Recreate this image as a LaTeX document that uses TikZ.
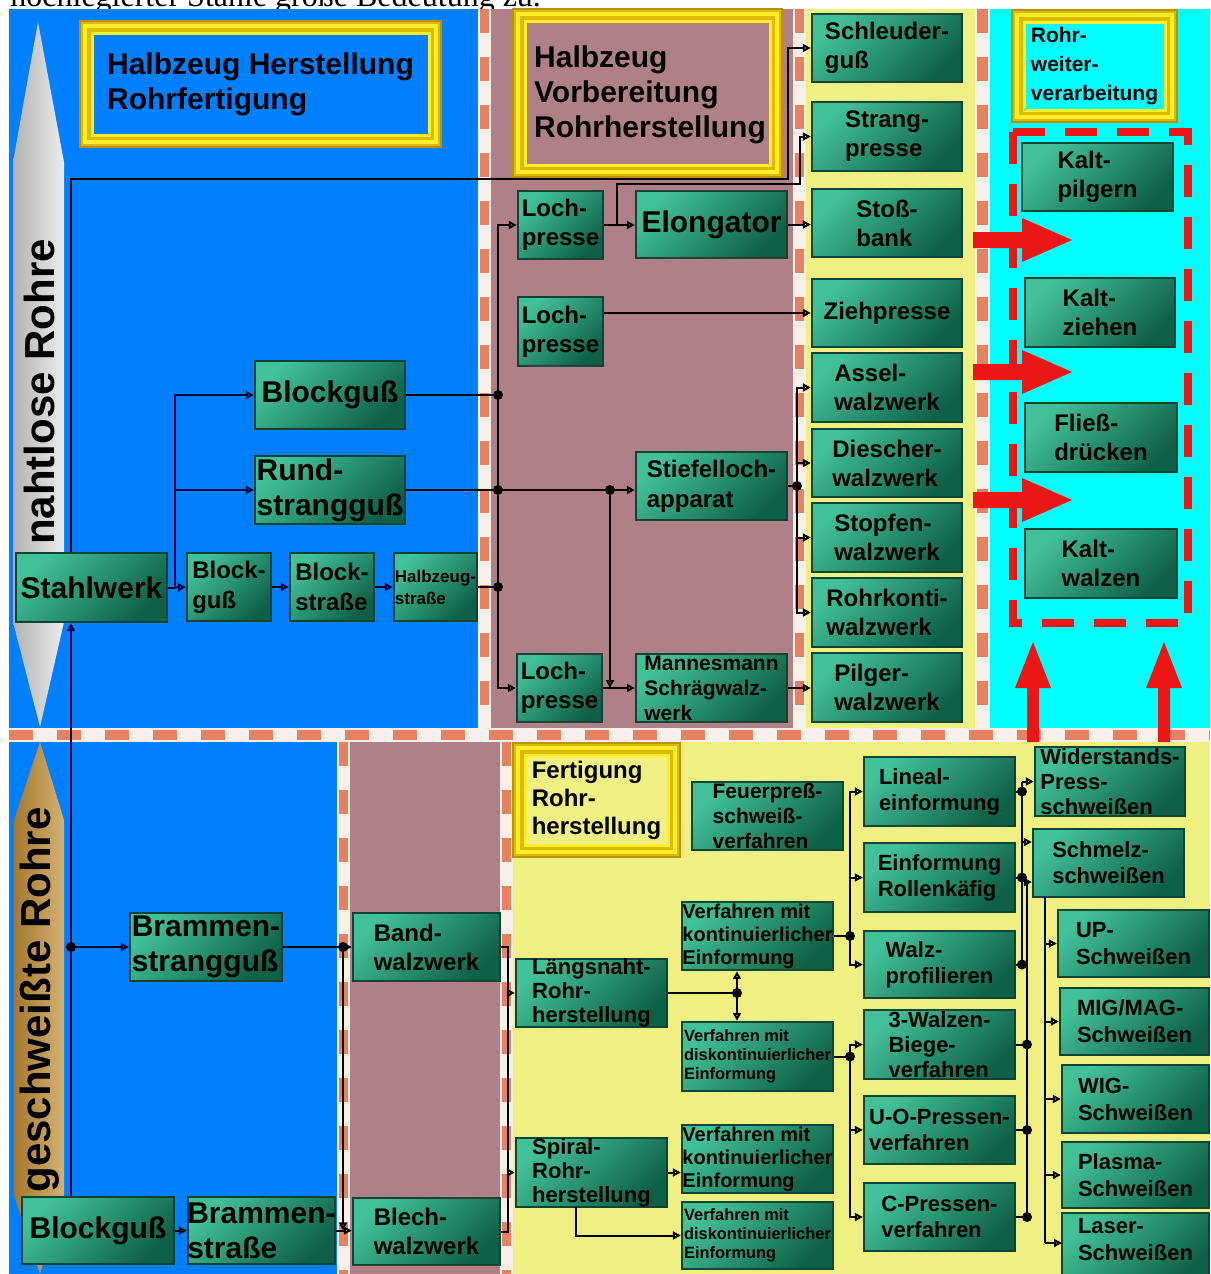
\documentclass[tikz,border=0pt]{standalone}
\usepackage{fontspec}
\setmainfont{Liberation Serif}
\setsansfont{Liberation Sans}
\usetikzlibrary{arrows.meta}

\definecolor{skyblue}{RGB}{0,128,255}
\definecolor{mauve}{RGB}{176,128,136}
\definecolor{paleyel}{RGB}{240,240,130}
\definecolor{aqua}{RGB}{0,255,255}
\definecolor{stripeor}{RGB}{232,128,98}
\definecolor{stripebg}{RGB}{246,240,232}
\definecolor{tealhi}{RGB}{66,192,154}
\definecolor{teallo}{RGB}{14,96,72}
\definecolor{tealedge}{RGB}{14,68,50}
\definecolor{goldA}{RGB}{222,186,0}
\definecolor{goldB}{RGB}{255,238,40}
\definecolor{goldC}{RGB}{186,146,0}
\definecolor{navy}{RGB}{0,0,60}
\definecolor{arrowred}{RGB}{236,22,22}

% green process box with exact pixel extent
\newcommand\gbox[5]{\node[gbox, minimum width={(#4-(#2))*0.5pt}, minimum height={(#5-(#3))*0.5pt}] (#1) at ({(#2+#4)/2},{(#3+#5)/2}) {};}
% gold title frame
\newcommand\goldframe[6]{%
  \node[draw=goldC, fill=goldA, line width=1pt, inner sep=0pt, minimum width={(#4-(#2))*0.5pt}, minimum height={(#5-(#3))*0.5pt}] (#1) at ({(#2+#4)/2},{(#3+#5)/2}) {};
  \draw[goldB, line width=2pt] ([shift={(6,6)}]#1.north west) rectangle ([shift={(-6,-6)}]#1.south east);
  \filldraw[fill=#6, draw=goldB, line width=1.5pt] ([shift={(13,13)}]#1.north west) rectangle ([shift={(-13,-13)}]#1.south east);}
% striped separators
\newcommand\vsep[4]{\fill[stripebg] (#1,#3) rectangle (#2,#4);
  \draw[stripeor, line width={(#2-(#1))*0.35pt}, dash pattern=on 12pt off 12pt] ({(#1+#2)/2},#3) -- ({(#1+#2)/2},#4);}
\newcommand\hsep[4]{\fill[stripebg] (#1,#3) rectangle (#2,#4);
  \draw[stripeor, line width={(#4-(#3))*0.35pt}, dash pattern=on 12pt off 12pt] (#1,{(#3+#4)/2}) -- (#2,{(#3+#4)/2});}
% red block arrows
\newcommand\rightred[1]{\fill[arrowred] (973,{#1-8}) -- (1022,{#1-8}) -- (1022,{#1-22}) -- (1072,#1) -- (1022,{#1+22}) -- (1022,{#1+8}) -- (973,{#1+8}) -- cycle;}
\newcommand\upred[1]{\fill[arrowred] ({#1-6},742) -- ({#1-6},688) -- ({#1-18},688) -- (#1,642) -- ({#1+18},688) -- ({#1+6},688) -- ({#1+6},742) -- cycle;}

\tikzset{
  gbox/.style={rectangle, inner sep=0pt, draw=tealedge, line width=1.2pt,
    top color=tealhi, bottom color=teallo, shading angle=45},
  lbl/.style={align=left, inner sep=0pt, text=black},
  t30/.style={lbl, font=\sffamily\bfseries\fontsize{15}{17.5}\selectfont},
  t24/.style={lbl, font=\sffamily\bfseries\fontsize{12}{14.5}\selectfont},
  t24w/.style={lbl, font=\sffamily\bfseries\fontsize{12}{15}\selectfont},
  t22/.style={lbl, font=\sffamily\bfseries\fontsize{11}{12}\selectfont},
  t22m/.style={lbl, font=\sffamily\bfseries\fontsize{11}{12.5}\selectfont},
  t22w/.style={lbl, font=\sffamily\bfseries\fontsize{11}{13}\selectfont},
  t22x/.style={lbl, font=\sffamily\bfseries\fontsize{11}{13.5}\selectfont},
  t21/.style={lbl, font=\sffamily\bfseries\fontsize{10.5}{12.5}\selectfont},
  t21w/.style={lbl, font=\sffamily\bfseries\fontsize{10.5}{14.5}\selectfont},
  t20/.style={lbl, font=\sffamily\bfseries\fontsize{10}{11.5}\selectfont},
  t16/.style={lbl, font=\sffamily\bfseries\fontsize{8.2}{9.5}\selectfont},
  t17/.style={lbl, font=\sffamily\bfseries\fontsize{8.5}{11}\selectfont},
  ln/.style={draw=black, line width=1pt},
  lnb/.style={draw=navy, line width=1pt},
  arr/.style={-{Triangle[open,length=4pt,width=4pt]}},
  dot/.style={circle, fill=black, inner sep=0pt, minimum size=5pt},
}

\begin{document}
\begin{tikzpicture}[x=0.5pt, y=-0.5pt]
\useasboundingbox (0,0) rectangle (1210,1274);
\clip (0,0) rectangle (1210,1274);
\fill[white] (0,0) rectangle (1210,1274);

% running text of the page above the chart
\node[anchor=base west, inner sep=0pt, font=\rmfamily\fontsize{16}{16}\selectfont] (pagetext) at (10,6) {hochlegierter Stähle große Bedeutung zu.};

% ---------- background areas ----------
\fill[skyblue] (9,9) rectangle (478,728);
\fill[mauve] (491,9) rectangle (793,728);
\fill[paleyel] (806,9) rectangle (975,728);
\fill[aqua] (990,9) rectangle (1210,728);
\fill[skyblue] (9,742) rectangle (337,1274);
\fill[mauve] (350,742) rectangle (500,1274);
\fill[paleyel] (513,742) rectangle (1210,1274);

\vsep{478}{491}{9}{728}
\vsep{793}{806}{9}{728}
\vsep{975}{990}{9}{728}
\hsep{9}{1210}{728}{742}
\vsep{337}{350}{742}{1274}
\vsep{500}{513}{742}{1274}

% ---------- side arrows ----------
\shade[left color=gray!60, middle color=white, right color=gray!15]
  (38,22) -- (64,162) -- (64,622) -- (40,727) -- (13,622) -- (13,162) -- cycle;
\node[rotate=90, inner sep=0pt, font=\sffamily\bfseries\fontsize{21}{21}\selectfont] (seamless) at (39,392) {nahtlose Rohre};
\shade[left color={rgb,255:red,165;green,120;blue,45}, middle color={rgb,255:red,250;green,238;blue,198}, right color={rgb,255:red,212;green,178;blue,115}]
  (40,742) -- (64,820) -- (64,1195) -- (40,1274) -- (14,1195) -- (14,820) -- cycle;
\node[rotate=90, inner sep=0pt, font=\sffamily\bfseries\fontsize{21}{21}\selectfont] (welded) at (40,1000) {geschweißte Rohre};

% ---------- title frames ----------
\goldframe{fA}{80}{21}{441}{147}{skyblue}
\node[t30] at (fA) {Halbzeug Herstellung\\Rohrfertigung};
\goldframe{fB}{513}{9}{782}{177}{mauve}
\node[t30] at (650,95) {Halbzeug\\Vorbereitung\\Rohrherstellung};
\goldframe{fC}{1012}{10}{1177}{122}{aqua}
\node[t21w] at (fC) {Rohr-\\weiter-\\verarbeitung};
\goldframe{fD}{513}{743}{680}{857}{paleyel}
\node[t24, font=\sffamily\bfseries\fontsize{12}{14}\selectfont] at (fD) {Fertigung\\Rohr-\\herstellung};

% ---------- red markers in the finishing area ----------
\draw[arrowred, line width=4pt, dash pattern=on 16pt off 10pt] (1013,132) rectangle (1188,623);
\rightred{240}
\rightred{372}
\rightred{500}
\upred{1033}
\upred{1164}

% ---------- boxes ----------
\gbox{stahl}{16}{553}{167}{622}
\gbox{bgA}{255}{361}{405}{429}
\gbox{rund}{255}{456}{405}{524}
\gbox{bgB}{187}{553}{271}{621}
\gbox{bstr}{290}{553}{374}{621}
\gbox{hzs}{394}{553}{477}{621}

\gbox{lpA}{518}{191}{603}{259}
\gbox{elong}{636}{191}{787}{258}
\gbox{lpB}{518}{297}{603}{366}
\gbox{lpC}{517}{654}{602}{722}
\gbox{stief}{636}{452}{787}{520}
\gbox{mann}{636}{654}{787}{722}

\gbox{schl}{812}{14}{962}{82}
\gbox{strang}{812}{102}{962}{171}
\gbox{stoss}{812}{189}{962}{257}
\gbox{zieh}{812}{279}{962}{347}
\gbox{assel}{812}{353}{962}{422}
\gbox{diesch}{812}{429}{962}{497}
\gbox{stopf}{812}{503}{962}{572}
\gbox{konti}{812}{578}{962}{647}
\gbox{pilg}{812}{653}{962}{722}

\gbox{kp}{1022}{143}{1173}{211}
\gbox{kz}{1025}{278}{1175}{347}
\gbox{fd}{1025}{403}{1177}{472}
\gbox{kw}{1025}{529}{1177}{598}

\gbox{bsg}{130}{913}{282}{981}
\gbox{bgL}{22}{1197}{174}{1264}
\gbox{bst}{188}{1197}{335}{1264}
\gbox{band}{353}{913}{500}{981}
\gbox{blech}{353}{1198}{500}{1265}

\gbox{feuer}{692}{782}{843}{850}
\gbox{vkA}{682}{902}{833}{970}
\gbox{lnr}{516}{959}{667}{1027}
\gbox{vdA}{682}{1022}{833}{1091}
\gbox{spr}{516}{1138}{667}{1207}
\gbox{vkB}{682}{1125}{833}{1193}
\gbox{vdB}{682}{1202}{833}{1269}

\gbox{lin}{864}{757}{1015}{826}
\gbox{eir}{864}{843}{1015}{912}
\gbox{walz}{864}{931}{1015}{998}
\gbox{wdrei}{864}{1010}{1015}{1079}
\gbox{uo}{864}{1096}{1015}{1164}
\gbox{cp}{864}{1183}{1015}{1251}

\gbox{wid}{1035}{747}{1185}{816}
\gbox{schm}{1033}{829}{1184}{897}
\gbox{up}{1058}{910}{1209}{977}
\gbox{mig}{1060}{988}{1209}{1055}
\gbox{wig}{1062}{1065}{1209}{1133}
\gbox{plas}{1062}{1142}{1209}{1208}
\gbox{las}{1062}{1213}{1209}{1281}

% ---------- box texts ----------
\node[t30] at (stahl) {Stahlwerk};
\node[t30] at (bgA) {Blockguß};
\node[t30] at (rund) {Rund-\\strangguß};
\node[t24w] at (bgB) {Block-\\guß};
\node[t24w] at (bstr) {Block-\\straße};
\node[t17] at (hzs) {Halbzeug-\\straße};
\node[t24] at (lpA) {Loch-\\presse};
\node[t30] at (elong) {Elongator};
\node[t24] at (lpB) {Loch-\\presse};
\node[t24] at (lpC) {Loch-\\presse};
\node[t24w] at (stief) {Stiefelloch-\\apparat};
\node[t21] at (mann) {Mannesmann\\Schrägwalz-\\werk};

\node[t24] at (schl) {Schleuder-\\guß};
\node[t24] at (strang) {Strang-\\presse};
\node[t24] at (stoss) {Stoß-\\bank};
\node[t24] at (zieh) {Ziehpresse};
\node[t24] at (assel) {Assel-\\walzwerk};
\node[t24] at (diesch) {Diescher-\\walzwerk};
\node[t24] at (stopf) {Stopfen-\\walzwerk};
\node[t24] at (konti) {Rohrkonti-\\walzwerk};
\node[t24] at (pilg) {Pilger-\\walzwerk};

\node[t24] at (kp) {Kalt-\\pilgern};
\node[t24] at (kz) {Kalt-\\ziehen};
\node[t24] at (fd) {Fließ-\\drücken};
\node[t24] at (kw) {Kalt-\\walzen};

\node[t30] at (bsg) {Brammen-\\strangguß};
\node[t30] at (bgL) {Blockguß};
\node[t30] at (bst) {Brammen-\\straße};
\node[t24] at (band) {Band-\\walzwerk};
\node[t24] at (blech) {Blech-\\walzwerk};

\node[t21] at (feuer) {Feuerpreß-\\schweiß-\\verfahren};
\node[t20] at (vkA) {Verfahren mit\\kontinuierlicher\\Einformung};
\node[t22] at (lnr) {Längsnaht-\\Rohr-\\herstellung};
\node[t16] at (vdA) {Verfahren mit\\diskontinuierlicher\\Einformung};
\node[t22] at (spr) {Spiral-\\Rohr-\\herstellung};
\node[t20] at (vkB) {Verfahren mit\\kontinuierlicher\\Einformung};
\node[t16] at (vdB) {Verfahren mit\\diskontinuierlicher\\Einformung};

\node[t22w] at (lin) {Lineal-\\einformung};
\node[t22w] at (eir) {Einformung\\Rollenkäfig};
\node[t22w] at (walz) {Walz-\\profilieren};
\node[t22m] at (wdrei) {3-Walzen-\\Biege-\\verfahren};
\node[t22w] at (uo) {U-O-Pressen-\\verfahren};
\node[t22w] at (cp) {C-Pressen-\\verfahren};

\node[t22m] at (wid) {Widerstands-\\Press-\\schweißen};
\node[t22w] at (schm) {Schmelz-\\schweißen};
\node[t22x] at (up) {UP-\\Schweißen};
\node[t22x] at (mig) {MIG/MAG-\\Schweißen};
\node[t22x] at (wig) {WIG-\\Schweißen};
\node[t22x] at (plas) {Plasma-\\Schweißen};
\node[t22x] at (las.north) [anchor=north, yshift=-3pt] {Laser-\\Schweißen};

% ---------- connectors: steel works and semi-finished products ----------
\coordinate (topL) at (71,179);
\coordinate (kA) at (788,179);
\coordinate (dA) at (71,947);
\draw[lnb,arr] (bgL.north -| topL) -- (stahl.south -| topL);
\draw[ln,arr] (stahl.north -| topL) -- (topL) -- (kA) |- (schl.west);
\draw[lnb,arr] (dA) -- (dA -| bsg.west);

\coordinate (jB) at (175,587.5);
\draw[lnb] (stahl.east) -- (jB);
\draw[lnb,arr] (jB) -- (bgB.west);
\draw[lnb,arr] (jB) |- (bgA.west);
\draw[lnb,arr] (jB) |- (rund.west);
\draw[lnb,arr] (bgB.east) -- (bstr.west);
\draw[lnb,arr] (bstr.east) -- (hzs.west);

% collecting bus in the preparation area
\coordinate (dh) at (498,587);
\coordinate (db) at (498,395);
\coordinate (dr) at (498,490);
\coordinate (dS) at (610,490);
\draw[ln] (hzs.east) -- (dh);
\draw[ln] (bgA.east) -- (db);
\draw[ln] (rund.east) -- (dr) -- (dS);
\draw[ln] (db) -- (dh);
\draw[ln,arr] (db) |- (lpA.west);
\draw[ln,arr] (dh) |- (lpC.west);
\draw[ln,arr] (dS) -- (dS -| stief.west);
\draw[ln,arr] (dS) -- (dS |- lpC.east);
\draw[ln,arr] (lpC.east) -- (mann.west);

\coordinate (jE) at (617,225);
\coordinate (kS) at (800,184);
\draw[ln,arr] (lpA.east) -- (lpA.east -| elong.west);
\draw[ln,arr] (jE) |- (kS) |- (strang.west);
\draw[ln,arr] (elong.east) -- (elong.east -| stoss.west);
\draw[ln,arr] (lpB.east |- zieh.west) -- (zieh.west);

\coordinate (dT) at (797,486);
\draw[ln] (stief.east) -- (dT);
\draw[ln,arr] (dT) |- (assel.west);
\draw[ln,arr] (dT) |- (konti.west);
\draw[ln,arr] (dT |- diesch.west) -- (diesch.west);
\draw[ln,arr] (dT |- stopf.west) -- (stopf.west);
\draw[ln,arr] (mann.east) -- (mann.east -| pilg.west);

% ---------- connectors: welded tubes ----------
\coordinate (dB) at (343,947);
\draw[ln] (bsg.east) -- (dB);
\draw[ln,arr] (dB) -- (dB -| band.west);
\draw[ln,arr] (dB) -- (dB |- bst.east);
\draw[ln,arr] (bgL.east) -- (bgL.east -| bst.west);
\draw[ln,arr] (bst.east) -- (bst.east -| blech.west);

\coordinate (kB) at (508,947);
\draw[ln] (band.east) -- (kB) -- (kB |- blech.east) -- (blech.east);
\draw[ln,arr] (kB |- lnr.west) -- (lnr.west);
\draw[ln,arr] (kB |- spr.west) -- (spr.west);

\coordinate (dL) at (737,993);
\draw[ln] (lnr.east) -- (dL);
\draw[ln,arr] (dL) -- (dL |- vkA.south);
\draw[ln,arr] (dL) -- (dL |- vdA.north);
\draw[ln,arr] (spr.east) -- (spr.east -| vkB.west);
\coordinate (spb) at (576,1207);
\draw[ln,arr] (spb) |- (vdB.west);

\coordinate (dK) at (850,936);
\draw[ln] (vkA.east) -- (dK);
\draw[ln,arr] (dK) |- (lin.west);
\draw[ln,arr] (dK) |- (walz.west);
\draw[ln,arr] (dK |- eir.west) -- (eir.west);

\coordinate (dD) at (850,1056.5);
\draw[ln] (vdA.east) -- (dD);
\draw[ln,arr] (dD) |- (wdrei.west);
\draw[ln,arr] (dD) |- (cp.west);
\draw[ln,arr] (dD |- uo.west) -- (uo.west);

\coordinate (rA) at (1022,792);
\coordinate (sA) at (1022,842);
\coordinate (sB) at (1027,882);
\draw[ln] (rA |- wid.west) -- (rA |- walz.east);
\draw[ln] (lin.east) -- (rA |- lin.east);
\draw[ln] (eir.east) -- (rA |- eir.east);
\draw[ln] (walz.east) -- (rA |- walz.east);
\draw[ln,arr] (rA |- wid.west) -- (wid.west);
\draw[ln,arr] (sA) -- (sA -| schm.west);
\draw[ln,arr] (sB |- cp.east) -- (sB) -- (sB -| schm.west);
\draw[ln] (wdrei.east) -- (sB |- wdrei.east);
\draw[ln] (uo.east) -- (sB |- uo.east);
\draw[ln] (cp.east) -- (sB |- cp.east);

\coordinate (sb) at (1045,897);
\draw[ln] (sb) -- (sb |- 0,1243);
\draw[ln,arr] (sb |- up.west) -- (up.west);
\draw[ln,arr] (sb |- mig.west) -- (mig.west);
\draw[ln,arr] (sb |- wig.west) -- (wig.west);
\draw[ln,arr] (sb |- plas.west) -- (plas.west);
\draw[ln,arr] (sb |- 0,1243) -- (1062,1243);

% ---------- junction dots ----------
\node[dot] at (dA) {};
\node[dot] at (dh) {};
\node[dot] at (db) {};
\node[dot] at (dr) {};
\node[dot] at (dS) {};
\node[dot] at (dT) {};
\node[dot] at (dB) {};
\node[dot] at (dL) {};
\node[dot] at (dK) {};
\node[dot] at (dD) {};
\node[dot] at (rA |- lin.east) {};
\node[dot] at (rA |- eir.east) {};
\node[dot] at (rA |- walz.east) {};
\node[dot] at (sB |- wdrei.east) {};
\node[dot] at (sB |- uo.east) {};
\node[dot] at (sB |- cp.east) {};
\end{tikzpicture}
\end{document}
